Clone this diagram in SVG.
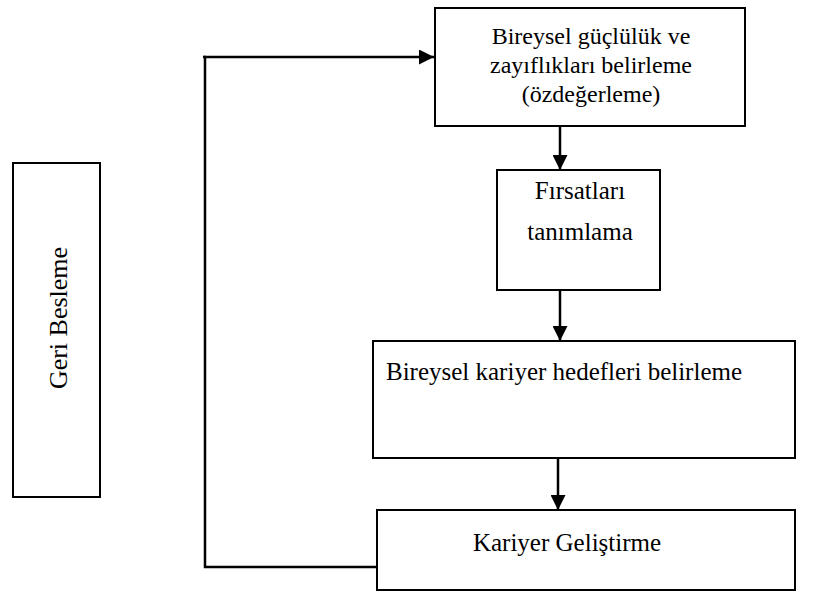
<svg xmlns="http://www.w3.org/2000/svg" width="838" height="595" viewBox="0 0 838 595">
  <style>
    .box { fill: #ffffff; stroke: #000000; stroke-width: 2; }
    .wire { fill: none; stroke: #000000; stroke-width: 2.5; }
    .lbl { font-family: "Liberation Serif", "Times New Roman", serif; font-size: 25px; fill: #000000; text-anchor: middle; }
    .sm { font-size: 24px; }
  </style>
  <defs>
    <marker id="arrow" viewBox="0 0 10 10" refX="10" refY="5" markerWidth="6" markerHeight="6" markerUnits="strokeWidth" orient="auto">
      <path d="M0,0 L10,5 L0,10 Z" fill="#000000"/>
    </marker>
  </defs>
  <rect width="838" height="595" fill="#ffffff"/>

  <g id="connectors">
    <polyline class="wire" points="377,567 205,567 205,57 434,57" marker-end="url(#arrow)"/>
    <line class="wire" x1="203" y1="57" x2="206" y2="57"/>
    <line class="wire" x1="560" y1="126" x2="560" y2="170" marker-end="url(#arrow)"/>
    <line class="wire" x1="560" y1="290" x2="560" y2="341" marker-end="url(#arrow)"/>
    <line class="wire" x1="558" y1="458" x2="558" y2="510" marker-end="url(#arrow)"/>
  </g>

  <g id="node-ozdegerleme">
    <rect class="box" x="435" y="8" width="310" height="118"/>
    <text class="lbl sm" x="591" y="44">Bireysel güçlülük ve</text>
    <text class="lbl sm" x="591" y="73">zayıflıkları belirleme</text>
    <text class="lbl sm" x="591" y="102">(özdeğerleme)</text>
  </g>

  <g id="node-firsatlar">
    <rect class="box" x="497" y="170" width="163" height="120"/>
    <text class="lbl" x="580" y="199">Fırsatları</text>
    <text class="lbl" x="580" y="240">tanımlama</text>
  </g>

  <g id="node-hedefler">
    <rect class="box" x="373" y="341" width="422" height="117"/>
    <text class="lbl" x="564" y="380">Bireysel kariyer hedefleri belirleme</text>
  </g>

  <g id="node-gelistirme">
    <rect class="box" x="377" y="510" width="418" height="80"/>
    <text class="lbl" x="567" y="551">Kariyer Geliştirme</text>
  </g>

  <g id="node-geri-besleme">
    <rect class="box" x="13" y="163" width="87" height="334"/>
    <text class="lbl" style="font-size:26px" transform="translate(67,318) rotate(-90)">Geri Besleme</text>
  </g>
</svg>
